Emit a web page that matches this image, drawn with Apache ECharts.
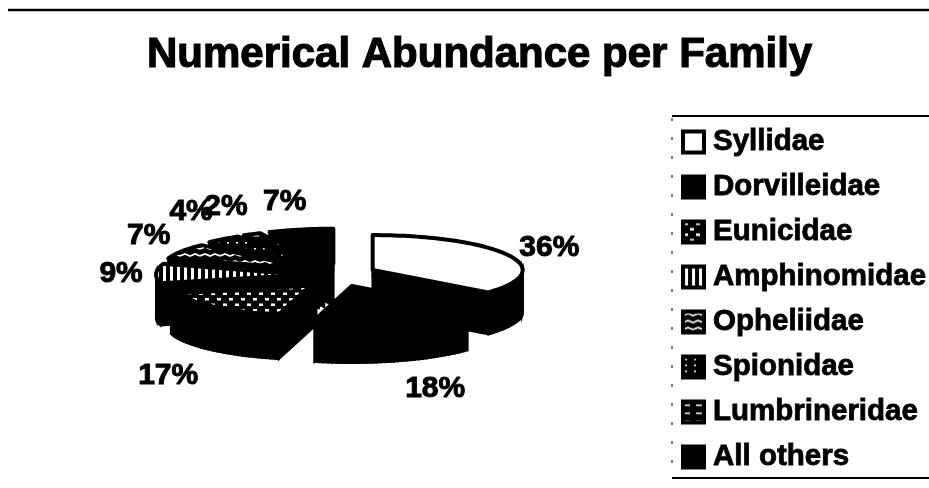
<!DOCTYPE html>
<html>
<head>
<meta charset="utf-8">
<style>html,body{margin:0;padding:0;background:#fff}#chart{width:929px;height:488px}</style>
<script src="https://cdn.jsdelivr.net/npm/echarts@6/dist/echarts.min.js"></script>
</head>
<body>
<div id="chart"></div>
<script>
// Share of individuals in each polychaete family
const families = ['Syllidae','Dorvilleidae','Eunicidae','Amphinomidae','Opheliidae','Spionidae','Lumbrineridae','All others'];
const percents = [36,18,17,9,7,4,2,7];

// Label shift from each slice's rim midpoint, in pixels
const labelShift = [[41,-7],[37,69],[-42,68],[-35,0],[-33,-16],[-32,-27],[-26,-27],[-16,-28]];
// Outline weight of each slice's top face
const faceOutline = [4,4,8,4,4,4,4,4];

// Tilted-pie geometry
const pie = {cx:341, cy:275, rx:150, ry:35, depth:42, explode:35, explodeTilt:0.33};
const INK = '#000';
const FONT = '"Liberation Sans", Arial, sans-serif';

function tile(w, h, paint) {
  const c = document.createElement('canvas');
  c.width = w; c.height = h;
  const g = c.getContext('2d');
  g.fillStyle = INK; g.fillRect(0,0,w,h);
  g.fillStyle = '#fff'; g.strokeStyle = '#fff';
  paint(g);
  return {image:c, repeat:'repeat'};
}
const fills = [
  '#fff',
  INK,
  tile(12,11,g=>{g.fillRect(1,1,4,2.5);g.fillRect(7,6.5,4,2.5);}),
  tile(7,2,g=>{g.fillRect(2,0,3,2);}),
  tile(20,7,g=>{g.lineWidth=1.7;g.beginPath();g.moveTo(0,4);
    g.lineTo(5,2);g.lineTo(10,4);g.lineTo(15,2);g.lineTo(20,4);g.stroke();}),
  tile(9,6,g=>{g.fillRect(2,2,2,1.5);}),
  tile(12,8,g=>{g.fillRect(1,3,6,1.5);}),
  INK
];

// Start and end angle of every slice, clockwise from twelve o'clock
const total = percents.reduce((a,b)=>a+b,0);
const spans = [];
percents.reduce((acc,v)=>{spans.push([acc/total*2*Math.PI,(acc+v)/total*2*Math.PI]);return acc+v;},0);

function sliceRender(idx) {
  return function(params, api) {
    const share = api.value(0);
    const [a0,a1] = spans[idx];
    const mid = (a0+a1)/2;
    const ox = pie.cx + pie.explode*Math.sin(mid);
    const oy = pie.cy - pie.explode*pie.explodeTilt*Math.cos(mid);
    const rim = t => [ox+pie.rx*Math.sin(t), oy-pie.ry*Math.cos(t)];
    const arc = [];
    const steps = Math.max(6, Math.ceil((a1-a0)/0.03));
    for (let i=0;i<=steps;i++) arc.push(rim(a0+(a1-a0)*i/steps));
    const drop = p => [p[0], p[1]+pie.depth];
    const apex = [ox,oy];
    const solid = {fill:INK, stroke:INK, lineWidth:2};
    const poly = pts => ({type:'polygon', shape:{points:pts}, style:solid});
    const rimPt = rim(mid);
    const shift = labelShift[idx];
    const wall = [
      poly([apex,arc[0],drop(arc[0]),drop(apex)]),
      poly([apex,arc[steps],drop(arc[steps]),drop(apex)])
    ];
    for (let i=0;i<steps;i++) wall.push(poly([arc[i],arc[i+1],drop(arc[i+1]),drop(arc[i])]));
    return {type:'group', children:wall.concat([
      {type:'polygon', shape:{points:[apex].concat(arc)},
       style:{fill:fills[idx], stroke:INK, lineWidth:faceOutline[idx], lineJoin:'round'}},
      {type:'text', z2:10, style:{x:rimPt[0]+shift[0], y:rimPt[1]+shift[1], text:share+'%',
        fill:INK, stroke:INK, lineWidth:1, font:'bold 30px '+FONT, textAlign:'center', textVerticalAlign:'middle'}}
    ])};
  };
}

// Paint slices from the far side of the pie to the near side
const paintOrder = [7,6,5,0,4,3,2,1];
const series = paintOrder.map((idx,rank)=>({
  type:'custom', name:families[idx], coordinateSystem:'none', z:2+rank,
  silent:true, animation:false, clip:false,
  data:[[percents[idx]]], encode:{value:0},
  renderItem:sliceRender(idx),
  itemStyle:{color:fills[idx], borderColor:INK, borderWidth:4}
}));

const rule = (x1,y1,x2,y2,w,dash) => ({type:'line', silent:true,
  shape:{x1,y1,x2,y2}, style:{stroke:INK, lineWidth:w, lineDash:dash||null}});

const chart = echarts.init(document.getElementById('chart'), null, {renderer:'canvas'});
chart.setOption({
  animation:false,
  backgroundColor:'#fff',
  title:{text:'Numerical Abundance per Family', left:142, top:29,
    textStyle:{fontFamily:FONT, fontWeight:'bold', fontSize:42, color:INK,
      textBorderColor:INK, textBorderWidth:1.2}},
  legend:{orient:'vertical', left:676, top:120, data:families, icon:'rect',
    itemWidth:21, itemHeight:21, itemGap:11, selectedMode:false,
    itemStyle:{borderColor:INK, borderWidth:4},
    textStyle:{fontFamily:FONT, fontWeight:'bold', fontSize:29.5, color:INK, lineHeight:30, padding:[4,0,0,4],
      textBorderColor:INK, textBorderWidth:0.8}},
  graphic:[
    rule(8,10,929,10,2.5),
    rule(672,116,929,116,2),
    rule(672,478,929,478,2),
    rule(672,118,672,476,1,[3,16])
  ],
  series
});
</script>
</body>
</html>
